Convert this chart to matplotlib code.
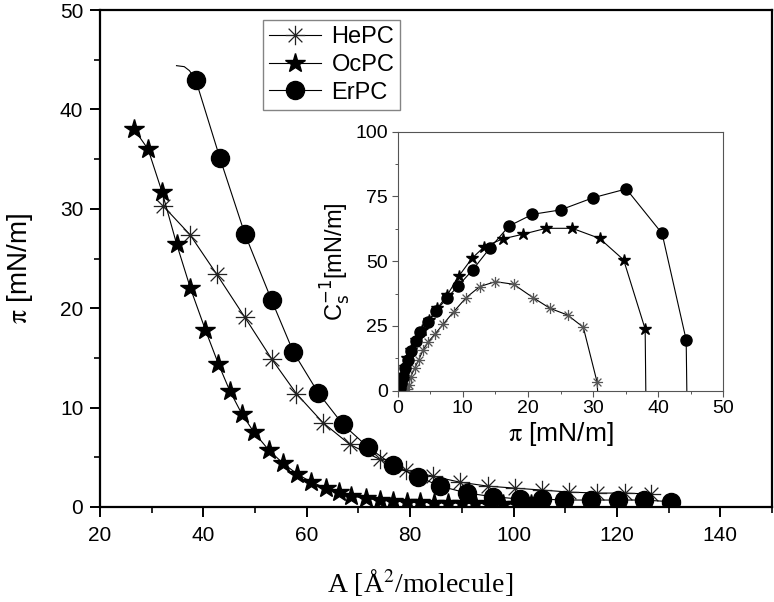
import numpy as np
import matplotlib
matplotlib.use("Agg")
import matplotlib.pyplot as plt
from matplotlib.path import Path
from matplotlib.ticker import MultipleLocator

plt.rcParams['font.family'] = ['Liberation Sans', 'DejaVu Sans']

# ---------------- main isotherm data ----------------
hepc_A = [32.2, 37.4, 42.6, 48.0, 53.2, 58.0, 63.1, 68.3, 74.1, 79.2, 84.4, 89.6,
          95.0, 100.2, 105.6, 110.8, 116.2, 121.6, 126.6]
hepc_pi = [30.3, 27.4, 23.4, 19.1, 14.9, 11.4, 8.5, 6.3, 4.8, 3.7, 3.1, 2.5,
           2.1, 1.9, 1.7, 1.5, 1.4, 1.4, 1.3]

ocpc_A = [26.6, 29.3, 32.0, 34.8, 37.5, 40.4, 42.9, 45.1, 47.4, 49.8, 52.7, 55.4,
          58.2, 60.9, 63.7, 66.2, 68.6, 71.5, 74.1, 76.7, 79.3, 82.0, 84.6, 87.3,
          90.0, 92.6, 95.3, 98.0, 100.6, 103.3]
ocpc_pi = [38.0, 36.0, 31.7, 26.5, 22.0, 17.8, 14.4, 11.7, 9.4, 7.5, 5.7, 4.4,
           3.3, 2.5, 1.9, 1.5, 1.1, 0.87, 0.7, 0.6, 0.55, 0.5, 0.45, 0.42,
           0.4, 0.37, 0.35, 0.33, 0.3, 0.28]

erpc_A = [38.5, 43.2, 48.0, 53.2, 57.4, 62.2, 67.0, 71.9, 76.7, 81.5, 85.8, 91.0,
          96.0, 101.2, 105.5, 109.7, 115.0, 120.2, 125.3, 130.5]
erpc_pi = [43.0, 35.1, 27.5, 20.8, 15.6, 11.5, 8.3, 6.0, 4.2, 3.05, 2.1, 1.4,
           1.04, 0.8, 0.8, 0.7, 0.7, 0.7, 0.7, 0.53]
# fitted-line start before the first ErPC point (line only)
erpc_hook_A = [34.8, 36.3, 37.3]
erpc_hook_pi = [44.4, 44.3, 43.9]

# ---------------- inset: compressibility modulus ----------------
in_hepc_pi = [1.5, 1.7, 2.0, 2.6, 3.2, 3.9, 4.7, 5.7, 7.0, 8.6, 10.5, 12.6, 15.0,
              17.8, 20.8, 23.4, 26.1, 28.5, 30.6]
in_hepc_c = [0.5, 2.2, 5.4, 8.6, 11.8, 15.7, 18.9, 21.8, 25.7, 30.5, 35.9, 40.2,
             42.1, 41.1, 35.9, 31.8, 29.2, 24.5, 3.5]
in_ocpc_pi = [0.3, 0.5, 0.8, 1.1, 1.5, 2.1, 2.8, 3.7, 4.8, 6.1, 7.6, 9.4, 11.4,
              13.3, 16.1, 19.2, 22.8, 26.8, 31.0, 34.7, 38.0]
in_ocpc_c = [0.9, 2.8, 6.0, 9.3, 12.5, 15.7, 19.6, 23.4, 27.3, 31.8, 36.9, 44.3,
             51.1, 55.6, 58.6, 60.4, 62.7, 62.7, 58.8, 50.5, 23.8]
in_erpc_pi = [0.3, 0.5, 0.8, 1.1, 1.6, 2.1, 2.8, 3.5, 4.7, 5.9, 7.5, 9.3, 11.5,
              14.2, 17.1, 20.7, 25.0, 30.0, 35.1, 40.6, 44.3]
in_erpc_c = [0.9, 2.8, 5.4, 8.6, 11.8, 15.4, 19.2, 22.5, 26.4, 30.8, 35.6, 40.5,
             46.6, 55.2, 63.6, 68.1, 69.8, 74.5, 77.9, 60.7, 19.6]
# collapse ends of fitted lines (line only)
in_tail_pi = {'HePC': 30.7, 'OcPC': 38.1, 'ErPC': 44.4}

labels = ['HePC', 'OcPC', 'ErPC']

# 8-armed asterisk marker
asterisk = Path(
    [(-1, 0), (1, 0), (0, -1), (0, 1),
     (-0.707, -0.707), (0.707, 0.707), (-0.707, 0.707), (0.707, -0.707)],
    [Path.MOVETO, Path.LINETO] * 4)

fig = plt.figure(figsize=(7.74, 6.02), dpi=100)
W, H = 774, 602
ax = fig.add_axes([100 / W, 1 - 507 / H, 672 / W, 497 / H])

lw = 0.8
ax.plot(hepc_A, hepc_pi, color='black', lw=lw, marker=asterisk, ms=14,
        mfc='none', mec='#222222', mew=0.9, label=labels[0], zorder=3)
ax.plot(ocpc_A, ocpc_pi, color='black', lw=lw, marker='*', ms=15,
        mfc='black', mec='black', label=labels[1], zorder=3)
ax.plot(erpc_hook_A + [erpc_A[0]], erpc_hook_pi + [erpc_pi[0]],
        color='black', lw=lw, zorder=3)
ax.plot(erpc_A, erpc_pi, color='black', lw=lw, marker='o', ms=13,
        mfc='black', mec='black', label=labels[2], zorder=3)

ax.set_xlim(20, 150)
ax.set_ylim(0, 50)
ax.xaxis.set_major_locator(MultipleLocator(20))
ax.xaxis.set_minor_locator(MultipleLocator(10))
ax.yaxis.set_major_locator(MultipleLocator(10))
ax.yaxis.set_minor_locator(MultipleLocator(5))
for s in ax.spines.values():
    s.set_linewidth(1.6)
ax.tick_params(which='major', direction='out', length=7, width=1.4,
               labelsize=15, pad=5)
ax.tick_params(which='minor', direction='out', length=4.5, width=1.2)
ax.tick_params(axis='x', which='major', pad=7)

ax.set_xlabel(r'A [Å$^{2}$/molecule]', family='Liberation Serif', fontsize=20,
              math_fontfamily='stix')
ax.xaxis.set_label_coords((420 - 100) / 672, -(583 - 507) / 497)
ax.xaxis.label.set_va('center')
ax.set_ylabel(r'$\mathrm{\pi}$ [mN/m]', fontsize=20, math_fontfamily='stix')
ax.yaxis.set_label_coords(-(100 - 20) / 672, (507 - 268) / 497)
ax.yaxis.label.set_va('center')

leg = ax.legend(loc='upper left', bbox_to_anchor=(263 / W, 1 - 20 / H),
                bbox_transform=fig.transFigure, fontsize=17, frameon=True,
                fancybox=False, borderaxespad=0, borderpad=0.25,
                handlelength=2.2, handletextpad=0.45, labelspacing=0.25,
                edgecolor='#666666')
leg.get_frame().set_linewidth(1.0)

# ---------------- inset ----------------
ins = fig.add_axes([397.7 / W, 1 - 390.7 / H, 325.6 / W, 259 / H])
ins.plot(in_hepc_pi + [in_tail_pi['HePC']], in_hepc_c + [0], color='black', lw=lw)
ins.plot(in_hepc_pi, in_hepc_c, ls='none', marker=asterisk, ms=8,
         mfc='none', mec='#555555', mew=0.9)
ins.plot(in_ocpc_pi + [in_tail_pi['OcPC']], in_ocpc_c + [0], color='black', lw=lw)
ins.plot(in_ocpc_pi, in_ocpc_c, ls='none', marker='*', ms=9,
         mfc='black', mec='black')
ins.plot(in_erpc_pi + [in_tail_pi['ErPC']], in_erpc_c + [0], color='black', lw=lw)
ins.plot(in_erpc_pi, in_erpc_c, ls='none', marker='o', ms=8,
         mfc='black', mec='black')

ins.set_xlim(0, 50)
ins.set_ylim(0, 100)
ins.xaxis.set_major_locator(MultipleLocator(10))
ins.xaxis.set_minor_locator(MultipleLocator(5))
ins.yaxis.set_major_locator(MultipleLocator(25))
ins.yaxis.set_minor_locator(MultipleLocator(12.5))
for s in ins.spines.values():
    s.set_linewidth(0.8)
    s.set_color('#555555')
ins.tick_params(which='major', direction='out', length=4, width=0.8,
                labelsize=14, pad=3, color='#555555')
ins.tick_params(which='minor', direction='out', length=2.5, width=0.7,
                color='#555555')
ins.set_xlabel(r'$\mathrm{\pi}$ [mN/m]', fontsize=19, math_fontfamily='stix',
               labelpad=2)
ins.set_ylabel(r'C$_{\mathrm{s}}^{\mathrm{-1}}$[mN/m]', fontsize=17,
               math_fontfamily='dejavusans', labelpad=2)

fig.savefig('out.png', dpi=100)
